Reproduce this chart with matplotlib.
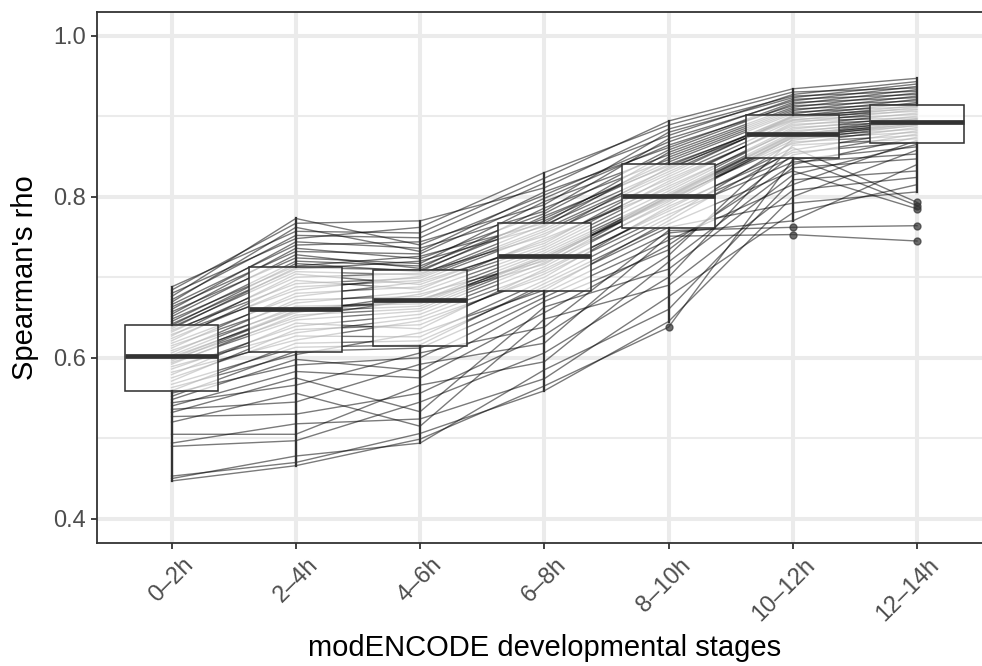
import matplotlib
matplotlib.use("Agg")
import matplotlib.pyplot as plt
from matplotlib.transforms import ScaledTranslation

plt.rcParams['font.family'] = ['Liberation Sans', 'DejaVu Sans']

# stages on the x axis
stages = ["0–2h", "2–4h", "4–6h", "6–8h", "8–10h", "10–12h", "12–14h"]

# Spearman's rho of each sample (same index = same sample) at every stage
rho_0_2h = [0.447, 0.450, 0.453, 0.490, 0.494, 0.505, 0.520, 0.527, 0.532, 0.536,
            0.540, 0.544, 0.548, 0.552, 0.556, 0.559, 0.563, 0.567, 0.571, 0.575,
            0.579, 0.582, 0.586, 0.589, 0.592, 0.594, 0.596, 0.598, 0.599, 0.601,
            0.603, 0.606, 0.609, 0.612, 0.615, 0.618, 0.621, 0.624, 0.627, 0.629,
            0.632, 0.634, 0.636, 0.638, 0.640, 0.642, 0.645, 0.648, 0.651, 0.654,
            0.657, 0.660, 0.663, 0.666, 0.669, 0.672, 0.676, 0.680, 0.684, 0.688]
rho_2_4h = [0.466, 0.478, 0.470, 0.497, 0.518, 0.505, 0.556, 0.530, 0.575, 0.545,
            0.583, 0.566, 0.598, 0.608, 0.591, 0.618, 0.604, 0.613, 0.635, 0.627,
            0.643, 0.622, 0.639, 0.631, 0.653, 0.647, 0.658, 0.650, 0.659, 0.656,
            0.664, 0.672, 0.661, 0.680, 0.668, 0.676, 0.696, 0.688, 0.704, 0.684,
            0.700, 0.692, 0.712, 0.707, 0.717, 0.710, 0.720, 0.714, 0.728, 0.736,
            0.724, 0.744, 0.732, 0.740, 0.762, 0.752, 0.773, 0.748, 0.767, 0.757]
rho_4_6h = [0.499, 0.494, 0.506, 0.545, 0.524, 0.566, 0.515, 0.556, 0.533, 0.592,
            0.575, 0.606, 0.584, 0.612, 0.600, 0.621, 0.631, 0.616, 0.641, 0.626,
            0.636, 0.646, 0.654, 0.650, 0.661, 0.658, 0.664, 0.673, 0.670, 0.679,
            0.667, 0.676, 0.671, 0.688, 0.682, 0.694, 0.685, 0.696, 0.691, 0.701,
            0.705, 0.699, 0.709, 0.703, 0.707, 0.720, 0.714, 0.726, 0.711, 0.723,
            0.717, 0.736, 0.729, 0.744, 0.732, 0.749, 0.740, 0.762, 0.770, 0.755]
rho_6_8h = [0.565, 0.585, 0.559, 0.606, 0.574, 0.595, 0.648, 0.628, 0.663, 0.618,
            0.656, 0.638, 0.670, 0.680, 0.675, 0.688, 0.684, 0.692, 0.704, 0.696,
            0.710, 0.700, 0.713, 0.707, 0.722, 0.718, 0.725, 0.716, 0.724, 0.720,
            0.727, 0.733, 0.730, 0.739, 0.736, 0.742, 0.748, 0.754, 0.745, 0.760,
            0.751, 0.757, 0.770, 0.765, 0.776, 0.763, 0.773, 0.767, 0.786, 0.779,
            0.794, 0.782, 0.798, 0.790, 0.806, 0.817, 0.802, 0.830, 0.811, 0.823]
rho_8_10h = [0.638, 0.660, 0.645, 0.700, 0.676, 0.719, 0.690, 0.727, 0.710, 0.751,
             0.740, 0.758, 0.734, 0.755, 0.746, 0.762, 0.770, 0.766, 0.778, 0.774,
             0.782, 0.788, 0.794, 0.785, 0.798, 0.791, 0.796, 0.801, 0.799, 0.804,
             0.800, 0.807, 0.802, 0.819, 0.813, 0.825, 0.810, 0.822, 0.816, 0.831,
             0.836, 0.828, 0.840, 0.834, 0.838, 0.849, 0.843, 0.855, 0.846, 0.858,
             0.852, 0.872, 0.864, 0.880, 0.861, 0.876, 0.868, 0.889, 0.884, 0.894]
rho_10_12h = [0.846, 0.821, 0.800, 0.864, 0.780, 0.836, 0.808, 0.872, 0.827, 0.753,
              0.840, 0.762, 0.852, 0.770, 0.815, 0.792, 0.858, 0.832, 0.843, 0.868,
              0.849, 0.855, 0.875, 0.861, 0.866, 0.874, 0.870, 0.877, 0.873, 0.880,
              0.876, 0.884, 0.878, 0.890, 0.882, 0.894, 0.886, 0.888, 0.892, 0.898,
              0.895, 0.900, 0.896, 0.901, 0.899, 0.907, 0.903, 0.911, 0.905, 0.915,
              0.909, 0.919, 0.913, 0.923, 0.917, 0.927, 0.921, 0.930, 0.925, 0.934]
rho_12_14h = [0.862, 0.832, 0.858, 0.872, 0.815, 0.847, 0.824, 0.880, 0.865, 0.745,
              0.874, 0.764, 0.878, 0.840, 0.870, 0.806, 0.882, 0.785, 0.853, 0.876,
              0.789, 0.868, 0.893, 0.793, 0.886, 0.884, 0.889, 0.895, 0.891, 0.897,
              0.888, 0.900, 0.890, 0.896, 0.892, 0.898, 0.894, 0.904, 0.908, 0.913,
              0.911, 0.917, 0.902, 0.909, 0.906, 0.925, 0.921, 0.929, 0.912, 0.933,
              0.915, 0.937, 0.919, 0.940, 0.923, 0.943, 0.927, 0.935, 0.931, 0.947]

columns = [rho_0_2h, rho_2_4h, rho_4_6h, rho_6_8h, rho_8_10h, rho_10_12h, rho_12_14h]
pos = list(range(1, len(stages) + 1))

dark = "#333333"
grid = "#EBEBEB"
x_lo, x_hi = 0.4, 7.523
y_lo, y_hi = 0.37, 1.03

fig = plt.figure(figsize=(9.82, 6.66), dpi=100)
# panel runs to the right edge of the figure (cut off there)
ax = fig.add_axes([97 / 982, 1 - 543 / 666, (982 - 97) / 982, (543 - 11.5) / 666])

# one line per sample across stages
for i in range(len(rho_0_2h)):
    ax.plot(pos, [col[i] for col in columns], color="black", alpha=0.52,
            lw=1.0, zorder=2)

bp = ax.boxplot(columns, positions=pos, widths=0.75, patch_artist=True,
                showcaps=False, whis=1.5, zorder=3,
                boxprops=dict(facecolor=(1, 1, 1, 0.68), edgecolor=dark, linewidth=1.15),
                whiskerprops=dict(color=dark, linewidth=1.6),
                medianprops=dict(color=dark, linewidth=3.4),
                flierprops=dict(marker="o", markersize=5, markerfacecolor=dark,
                                markeredgecolor=dark, alpha=0.7))

ax.set_xlim(x_lo, x_hi)
ax.set_ylim(y_lo, y_hi)
ax.set_yticks([0.4, 0.6, 0.8, 1.0])
ax.set_yticklabels(["0.4", "0.6", "0.8", "1.0"])
ax.set_yticks([0.5, 0.7, 0.9], minor=True)
ax.set_xticks(pos)
ax.set_xticklabels(stages, rotation=45, ha="right", va="top", rotation_mode="anchor")

ax.grid(True, which="major", color=grid, linewidth=2.9, zorder=0)
ax.grid(True, which="minor", axis="y", color=grid, linewidth=1.45, zorder=0)
ax.set_axisbelow(True)

ax.tick_params(axis="both", which="major", length=4, width=1.3, color=dark,
               labelsize=17, labelcolor="#4D4D4D", pad=4)
ax.tick_params(axis="y", which="minor", length=0)

# panel border: left, top and bottom only
for s in ax.spines.values():
    s.set_visible(False)
ax.axvline(x_lo, color=dark, lw=1.3, zorder=5, clip_on=False)
ax.axhline(y_lo, color=dark, lw=1.3, zorder=5, clip_on=False)
ax.axhline(y_hi, color=dark, lw=1.3, zorder=5, clip_on=False)

# shift rotated tick labels like ggplot's hjust = 1
for lbl in ax.get_xticklabels():
    lbl.set_transform(lbl.get_transform() + ScaledTranslation(8 / 72, 0, fig.dpi_scale_trans))

ax.set_ylabel("Spearman's rho", fontsize=21, color="black", labelpad=10)
ax.set_xlabel("modENCODE developmental stages", fontsize=21, color="black")
# centre the x title on the full panel (0.4 to 7.6)
ax.xaxis.set_label_coords((4.0 - x_lo) / (x_hi - x_lo), -0.171)

fig.savefig("out.png", dpi=100)
